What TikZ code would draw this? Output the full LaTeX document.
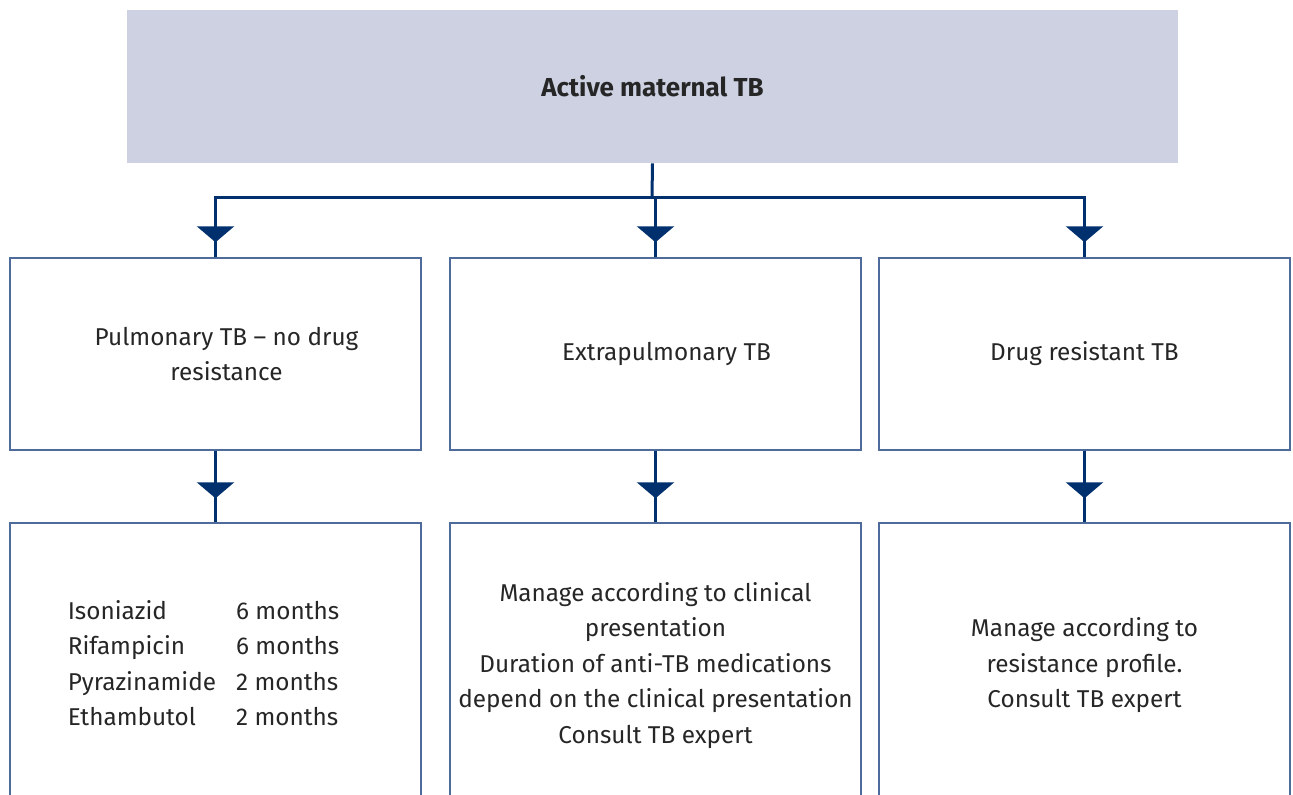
\documentclass[tikz,border=0pt]{standalone}
\usepackage{fontspec}
\setmainfont{Fira Sans}
\usetikzlibrary{arrows.meta,decorations.markings}
\definecolor{navy}{HTML}{00306E}
\definecolor{lav}{HTML}{CDD1E2}
\definecolor{edge}{HTML}{4F6B9C}
\definecolor{ink}{HTML}{262626}
\begin{document}
\begin{tikzpicture}
  [x=0.75pt, y=-0.75pt, text=ink, font=\fontsize{18.25}{26.6}\selectfont,
   box/.style={draw=edge, line width=1.1pt, minimum width=411*0.75pt, align=center, inner sep=0pt},
   link/.style={draw=navy, line width=2.25pt, postaction={decorate},
     decoration={markings, mark=at position -#1 with {\arrow{Triangle[width=27.75pt,length=12pt]}}}},
   link/.default=11.25pt]
  \useasboundingbox (0,0) rectangle (1293,794);
  \node [name=top, fill=lav, minimum width=1051*0.75pt, minimum height=153*0.75pt] at (652.5,86.5)
    {\fontsize{19.5}{24}\selectfont\bfseries Active maternal TB};
  \node [name=pulm, box, minimum height=192*0.75pt] at (215.5,354)
    {\hspace*{16.5pt}Pulmonary TB -- no drug\\\hspace*{16.5pt}resistance};
  \node [name=extra, box, minimum height=192*0.75pt] at (655.5,354) {\hspace*{16.5pt}Extrapulmonary TB};
  \node [name=resist, box, minimum height=192*0.75pt] at (1084.5,354) {Drug resistant TB};
  \node [name=pulmrx, box, minimum height=285*0.75pt] at (215.5,665.5)
    {\begin{tabular}{@{}l@{\hspace{15pt}}l@{}}
      Isoniazid & 6 months\\
      Rifampicin & 6 months\\
      Pyrazinamide & 2 months\\
      Ethambutol & 2 months
    \end{tabular}\hspace{18pt}};
  \node [name=extrarx, box, minimum height=285*0.75pt] at (655.5,665.5)
    {Manage according to clinical\\presentation\\Duration of anti-TB medications\\depend on the clinical presentation\\Consult TB expert};
  \node [name=resistrx, box, minimum height=285*0.75pt] at (1084.5,665.5)
    {Manage according to\\resistance profile.\\Consult TB expert};
  \coordinate (bus) at (652,197);

  \draw [navy, line width=2.25pt] (top.south) -- (bus);
  \draw [link] (bus) -| (pulm.north);
  \draw [link] (extra.north |- bus) -- (extra.north);
  \draw [link] (bus) -| (resist.north);
  \draw [link=18pt] (pulm.south) -- (pulmrx.north);
  \draw [link=18pt] (extra.south) -- (extrarx.north);
  \draw [link=18pt] (resist.south) -- (resistrx.north);
\end{tikzpicture}
\end{document}
